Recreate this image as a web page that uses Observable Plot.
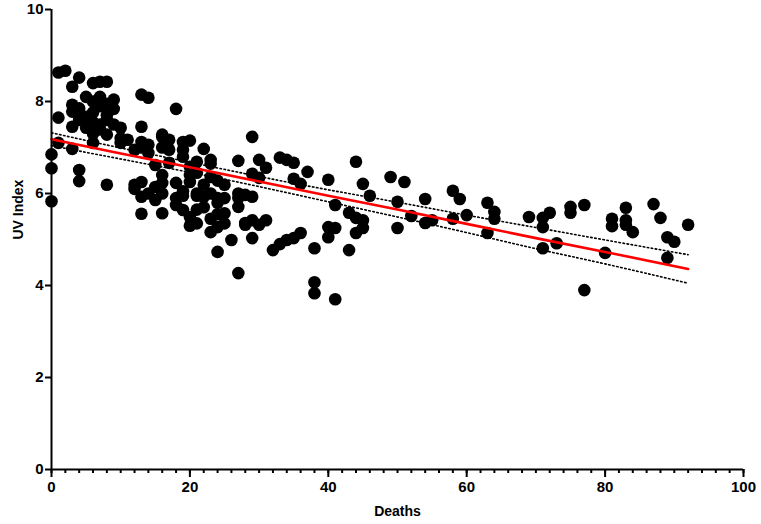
<!DOCTYPE html>
<html><head><meta charset="utf-8">
<script src="https://cdn.jsdelivr.net/npm/d3@7"></script>
<script src="https://cdn.jsdelivr.net/npm/@observablehq/plot@0.6"></script>
<style>body{margin:0;background:#fff}</style>
</head><body><div id="chart"></div>
<script>
const deaths = [
  0,0,0,1,2,1,1,
  3,4,3,5,3,5,3,3,4,4,5,4,4,
  6,6,7,8,6,8,7,8,6,9,9,8,7,6,8,7,9,8,6,7,10,
  10,10,11,13,13,13,14,14,14,15,12,13,15,13,15,13,12,13,14,12,
  16,17,16,18,17,19,19,20,16,18,16,19,18,16,19,20,17,19,16,18,19,16,
  20,22,21,23,23,20,22,21,22,23,20,21,23,24,23,24,25,25,24,25,25,24,20,21,21,24,21,23,24,22,
  27,29,29,27,27,28,29,28,28,29,26,29,27,27,
  30,31,33,34,30,30,31,32,33,34,35,35,
  35,36,36,37,38,38,38,40,40,40,
  41,41,41,43,44,45,45,44,43,44,45,46,49,
  50,50,51,52,54,54,55,58,59,58,
  60,63,64,64,63,69,
  71,72,71,71,73,75,75,77,77,
  80,81,81,83,83,83,84,87,88,89,90,89,92
];
const uvIndex = [
  5.83,6.55,6.85,8.63,8.67,7.65,7.10,
  8.32,8.52,7.93,8.10,7.78,7.67,7.45,6.97,6.51,6.27,7.43,7.85,7.60,
  8.00,8.40,8.43,8.43,7.76,7.60,7.39,7.28,7.10,8.04,7.84,6.19,7.90,7.55,7.70,8.10,7.50,7.95,7.30,7.50,7.10,
  7.43,7.20,7.17,7.12,7.45,8.15,8.08,7.06,6.88,6.62,6.19,6.25,6.14,5.93,5.86,5.56,6.95,7.00,6.00,6.10,
  7.23,7.17,7.28,7.84,6.67,7.12,6.80,6.58,6.23,6.23,5.57,5.64,5.90,6.00,6.05,6.40,6.95,6.95,7.00,5.75,5.95,6.40,
  7.15,6.97,6.69,6.73,6.36,6.25,6.19,6.00,5.93,6.00,5.49,5.65,5.45,5.27,5.16,4.73,6.19,5.90,5.90,5.57,5.35,5.80,5.30,5.35,5.95,6.28,6.45,6.65,5.55,5.70,
  6.71,7.23,6.43,5.71,5.90,5.97,5.93,5.36,5.32,5.42,4.99,5.03,4.27,6.00,
  6.73,6.56,6.78,6.73,6.34,5.32,5.42,4.77,4.90,4.99,6.67,6.32,
  5.03,5.14,6.21,6.47,4.81,4.07,3.83,6.30,5.27,5.05,
  5.75,5.25,3.70,5.58,5.47,5.42,5.25,5.14,4.77,6.69,6.21,5.95,6.36,
  5.82,5.25,6.25,5.51,5.88,5.36,5.42,6.06,5.88,5.45,
  5.53,5.80,5.60,5.45,5.14,5.49,
  5.47,5.58,5.27,4.81,4.92,5.71,5.58,5.75,3.90,
  4.71,5.45,5.29,5.69,5.42,5.32,5.16,5.77,5.47,5.05,4.95,4.60,5.32
];

// Regression line and its 95% confidence band
const fitX     = [0,    10,   20,   30,   40,   50,   60,   70,   80,   92];
const fitY     = [7.18, 6.87, 6.57, 6.26, 5.95, 5.65, 5.34, 5.03, 4.73, 4.36];
const bandHigh = [7.32, 6.99, 6.68, 6.37, 6.08, 5.81, 5.53, 5.26, 4.99, 4.67];
const bandLow  = [7.04, 6.75, 6.46, 6.15, 5.82, 5.49, 5.15, 4.80, 4.47, 4.05];

const xMajorTicks = [0, 20, 40, 60, 80, 100];
const xMinorTicks = d3.range(0, 101, 2);
const yTicks = [0, 2, 4, 6, 8, 10];

const points = deaths.map((d, i) => ({deaths: d, uv: uvIndex[i]}));
const fit = fitX.map((x, i) => ({x, y: fitY[i], hi: bandHigh[i], lo: bandLow[i]}));

const chart = Plot.plot({
  width: 761,
  height: 524,
  marginLeft: 51,
  marginRight: 18,
  marginTop: 9,
  marginBottom: 55,
  style: {fontFamily: "'Liberation Sans', Arial, sans-serif", fontWeight: "bold", fontSize: "15px", color: "#000", background: "#fff"},
  x: {domain: [0, 100]},
  y: {domain: [0, 10]},
  marks: [
    Plot.dot(points, {x: "deaths", y: "uv", r: 6.3, fill: "#000", stroke: "none"}),
    Plot.line(fit, {x: "x", y: "hi", stroke: "#000", strokeWidth: 1.6, strokeDasharray: "1.5,2.6", curve: "natural"}),
    Plot.line(fit, {x: "x", y: "lo", stroke: "#000", strokeWidth: 1.6, strokeDasharray: "1.5,2.6", curve: "natural"}),
    Plot.line(fit, {x: "x", y: "y", stroke: "#ff0000", strokeWidth: 2.6}),
    Plot.axisX({ticks: xMinorTicks, tickSize: 4, tickFormat: () => "", strokeWidth: 2, label: null}),
    Plot.axisX({ticks: xMajorTicks, tickSize: 8, tickPadding: 4, strokeWidth: 2, label: null, fontSize: 15}),
    Plot.axisY({ticks: yTicks, tickSize: 6, tickPadding: 2, strokeWidth: 2, label: null, fontSize: 15}),
    Plot.ruleX([0], {stroke: "#000", strokeWidth: 2}),
    Plot.ruleY([0], {stroke: "#000", strokeWidth: 2}),
    Plot.text(["Deaths"], {frameAnchor: "bottom", dy: 46, fontSize: 14, fontWeight: "bold"}),
    Plot.text(["UV Index"], {frameAnchor: "left", dx: -33, rotate: -90, fontSize: 14, fontWeight: "bold"})
  ]
});
document.getElementById("chart").append(chart);
</script>
</body></html>
